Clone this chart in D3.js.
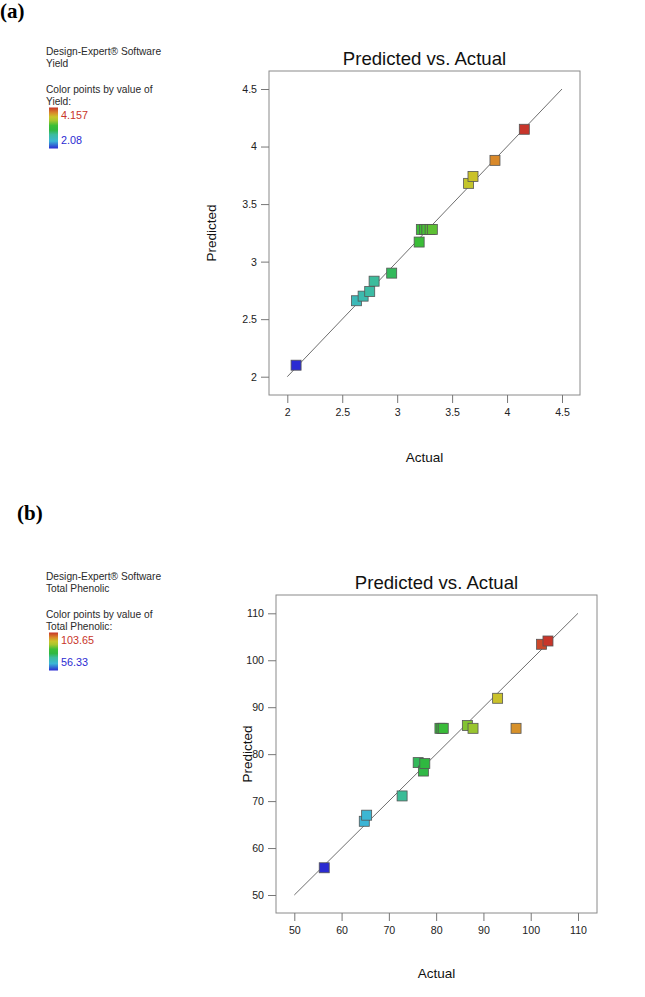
<!DOCTYPE html>
<html><head><meta charset="utf-8">
<script src="https://cdn.jsdelivr.net/npm/d3@7"></script>
<style>
html,body{margin:0;padding:0;background:#fff;}
svg{display:block;font-family:"Liberation Sans",Arial,sans-serif;}
</style></head>
<body>
<script>
// ---------- data ----------
const yieldActual    = [2.08, 2.63, 2.69, 2.75, 2.79, 2.95, 3.20, 3.22, 3.25, 3.27, 3.30, 3.32, 3.65, 3.69, 3.89, 4.157];
const yieldPredicted = [2.10, 2.66, 2.70, 2.74, 2.83, 2.90, 3.17, 3.28, 3.28, 3.28, 3.28, 3.28, 3.68, 3.74, 3.88, 4.15];
const yieldTicks = [2, 2.5, 3, 3.5, 4, 4.5];
const yieldRange = [2.08, 4.157];

const phenolActual    = [56.33, 64.8, 65.3, 72.8, 76.2, 77.3, 77.6, 80.8, 81.2, 81.5, 86.6, 87.8, 93.0, 96.9, 102.3, 103.65];
const phenolPredicted = [55.8, 65.7, 67.0, 71.1, 78.2, 76.4, 78.0, 85.5, 85.5, 85.5, 86.1, 85.5, 91.9, 85.5, 103.4, 104.1];
const phenolTicks = [50, 60, 70, 80, 90, 100, 110];
const phenolRange = [56.33, 103.65];

const colorStops  = [0, 0.18, 0.34, 0.45, 0.56, 0.68, 0.77, 0.87, 1];
const colorValues = ["#2b2bd2", "#3cb6d6", "#3cbc9e", "#2fb840", "#3cbe36", "#a6c62e", "#c9c52a", "#d98a2a", "#c8352a"];

// ---------- drawing ----------
const W = 645, H = 997;
const svg = d3.select("body").append("svg").attr("width", W).attr("height", H);
svg.append("rect").attr("width", W).attr("height", H).attr("fill", "#fff");

function colorScale(range) {
  return d3.scaleLinear()
    .domain(colorStops.map(t => range[0] + t * (range[1] - range[0])))
    .range(colorValues).interpolate(d3.interpolateRgb).clamp(true);
}

function panel(o) {
  const g = svg.append("g");
  // panel letter
  g.append("text").attr("x", o.letterX).attr("y", o.letterY)
    .attr("font-family", "'Liberation Serif','Times New Roman',serif")
    .attr("font-weight", "bold").attr("font-size", 21).text(o.letter);

  // legend
  const lx = 46;
  const ly = o.legendY;
  const lines = [
    ["Design-Expert\u00AE Software", ly],
    [o.name, ly + 11.5],
    ["Color points by value of", ly + 38],
    [o.name + ":", ly + 49.5]
  ];
  lines.forEach(([t, yy]) => {
    g.append("text").attr("x", lx).attr("y", yy)
      .attr("font-size", 10.2).attr("fill", "#2a2a2a").text(t);
  });
  const gid = "grad" + o.letter.replace(/\W/g, "");
  const grad = svg.append("defs").append("linearGradient").attr("id", gid)
    .attr("x1", 0).attr("y1", 1).attr("x2", 0).attr("y2", 0);
  colorStops.forEach((t, i) => grad.append("stop").attr("offset", t).attr("stop-color", colorValues[i]));
  const barTop = ly + 52.5;
  g.append("rect").attr("x", 49).attr("y", barTop).attr("width", 9).attr("height", o.barH)
    .attr("fill", `url(#${gid})`);
  g.append("text").attr("x", 61).attr("y", barTop + 11).attr("font-size", 10.8)
    .attr("fill", "#c8352a").text(o.maxLabel);
  g.append("text").attr("x", 61).attr("y", barTop + o.barH - 5).attr("font-size", 10.8)
    .attr("fill", "#2b2bd2").text(o.minLabel);

  // plot
  const x = d3.scaleLinear().domain([o.ticks[0], o.ticks[o.ticks.length - 1]]).range([o.x0, o.x1]);
  const y = d3.scaleLinear().domain([o.ticks[0], o.ticks[o.ticks.length - 1]]).range([o.y0, o.y1]);
  const fr = o.frame;
  g.append("rect").attr("x", fr[0]).attr("y", fr[1]).attr("width", fr[2] - fr[0]).attr("height", fr[3] - fr[1])
    .attr("fill", "none").attr("stroke", "#8a8a8a").attr("stroke-width", 1);

  const xa = g.append("g").attr("transform", `translate(0,${fr[3]})`)
    .call(d3.axisBottom(x).tickValues(o.ticks).tickSize(8).tickSizeOuter(0).tickFormat(d3.format("")));
  const ya = g.append("g").attr("transform", `translate(${fr[0]},0)`)
    .call(d3.axisLeft(y).tickValues(o.ticks).tickSize(8).tickSizeOuter(0).tickFormat(d3.format("")));
  [xa, ya].forEach(a => {
    a.select(".domain").remove();
    a.selectAll(".tick line").attr("stroke", "#777");
    a.selectAll(".tick text").attr("font-size", 10.6).attr("fill", "#222")
      .attr("font-family", "'Liberation Sans',Arial,sans-serif");
  });
  xa.selectAll(".tick text").attr("dy", "0.71em").attr("y", 13);
  ya.selectAll(".tick text").attr("x", -12);

  // diagonal
  const t0 = o.ticks[0], t1 = o.ticks[o.ticks.length - 1];
  g.append("line").attr("x1", x(t0)).attr("y1", y(t0)).attr("x2", x(t1)).attr("y2", y(t1))
    .attr("stroke", "#6e6e6e").attr("stroke-width", 1);

  // points
  const col = colorScale(o.range);
  const s = 10;
  const pts = o.actual.map((a, i) => ({a, p: o.predicted[i]}));
  g.selectAll("rect.pt").data(pts).enter().append("rect").attr("class", "pt")
    .attr("x", d => x(d.a) - s / 2).attr("y", d => y(d.p) - s / 2)
    .attr("width", s).attr("height", s)
    .attr("fill", d => col(d.a)).attr("stroke", "#555").attr("stroke-width", 0.8);

  // titles
  const cx = (fr[0] + fr[2]) / 2;
  g.append("text").attr("x", cx).attr("y", fr[1] - 6).attr("text-anchor", "middle")
    .attr("font-size", 18.6).attr("fill", "#111").text("Predicted vs. Actual");
  g.append("text").attr("x", cx).attr("y", o.xLabelY).attr("text-anchor", "middle")
    .attr("font-size", 13.5).attr("fill", "#111").text("Actual");
  g.append("text").attr("transform", `translate(${o.yLabelX},${(fr[1] + fr[3]) / 2}) rotate(-90)`)
    .attr("text-anchor", "middle").attr("font-size", 13.5).attr("fill", "#111").text("Predicted");
}

panel({
  letter: "(a)", letterX: 0, letterY: 18, name: "Yield", legendY: 55, barH: 41,
  maxLabel: "4.157", minLabel: "2.08",
  actual: yieldActual, predicted: yieldPredicted, ticks: yieldTicks, range: yieldRange,
  x0: 287.3, x1: 562, y0: 376.7, y1: 89,
  frame: [269, 71, 580, 395], xLabelY: 462, yLabelX: 216
});

panel({
  letter: "(b)", letterX: 17, letterY: 520, name: "Total Phenolic", legendY: 580, barH: 38,
  maxLabel: "103.65", minLabel: "56.33",
  actual: phenolActual, predicted: phenolPredicted, ticks: phenolTicks, range: phenolRange,
  x0: 294.3, x1: 578, y0: 895, y1: 613.3,
  frame: [276, 595, 597, 913], xLabelY: 978, yLabelX: 252
});
</script>
</body></html>
